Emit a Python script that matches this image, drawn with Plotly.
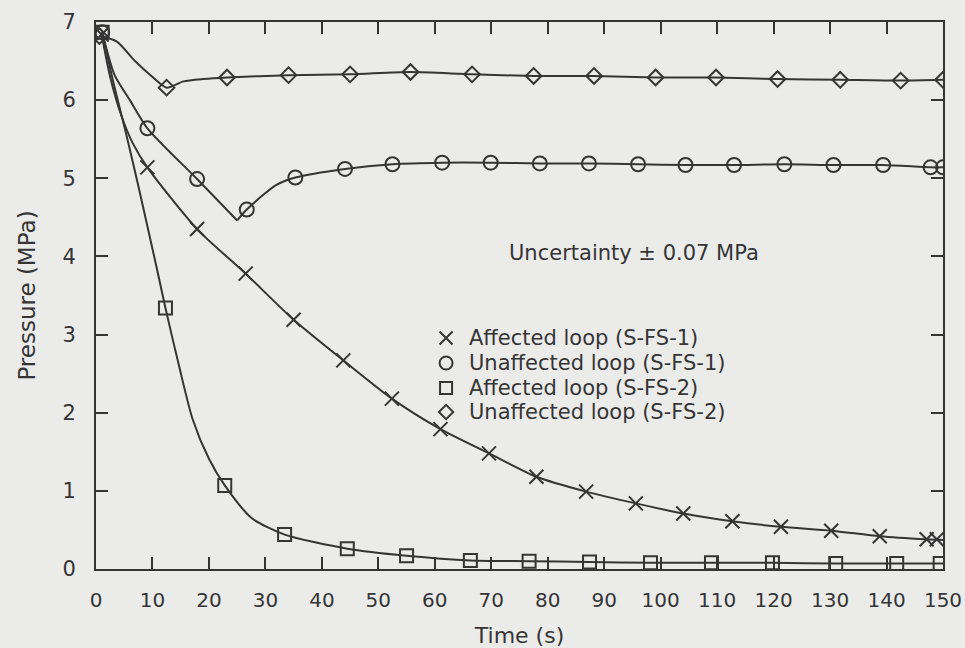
import plotly.graph_objects as go

# ---- marker data: time (s) and pressure (MPa) ----
aff1_t = [1.0, 9.1, 17.9, 26.5, 35.0, 43.8, 52.4, 61.0, 69.6, 78.0, 86.8, 95.6,
          104.0, 112.7, 121.3, 130.2, 138.8, 147.1, 148.9]
aff1_p = [6.84, 5.14, 4.35, 3.78, 3.19, 2.67, 2.18, 1.79, 1.48, 1.18, 0.99, 0.84,
          0.71, 0.61, 0.54, 0.49, 0.42, 0.38, 0.38]

unaff1_t = [1.1, 9.1, 17.9, 26.7, 35.3, 44.1, 52.5, 61.3, 69.9, 78.6, 87.3, 96.0,
            104.4, 113.0, 121.9, 130.6, 139.4, 147.8, 150.0]
unaff1_p = [6.87, 5.64, 4.99, 4.60, 5.01, 5.12, 5.18, 5.20, 5.20, 5.19, 5.19, 5.18,
            5.17, 5.17, 5.18, 5.17, 5.17, 5.14, 5.14]

aff2_t = [1.1, 12.3, 22.8, 33.4, 44.5, 55.0, 66.3, 76.7, 87.4, 98.2, 109.0, 119.8,
          131.0, 141.8, 149.5]
aff2_p = [6.87, 3.34, 1.07, 0.44, 0.26, 0.17, 0.11, 0.10, 0.09, 0.08, 0.08, 0.08,
          0.07, 0.07, 0.07]

unaff2_t = [0.6, 12.5, 23.2, 34.1, 45.0, 55.7, 66.6, 77.5, 88.2, 99.1, 109.8, 120.7,
            131.8, 142.5, 150.0]
unaff2_p = [6.82, 6.16, 6.29, 6.32, 6.33, 6.36, 6.33, 6.31, 6.31, 6.29, 6.29, 6.27,
            6.26, 6.25, 6.26]

# ---- curve vertices (smooth lines through the markers) ----
aff1_line_t = [1.0, 2.5, 4.5, 6.5, 9.1, 17.9, 26.5, 35.0, 43.8, 52.4, 61.0, 69.6,
               78.0, 86.8, 95.6, 104.0, 112.7, 121.3, 130.2, 138.8, 147.1, 150.0]
aff1_line_p = [6.84, 6.30, 5.80, 5.45, 5.14, 4.35, 3.78, 3.19, 2.67, 2.18, 1.79, 1.48,
               1.18, 0.99, 0.84, 0.71, 0.61, 0.54, 0.49, 0.42, 0.38, 0.37]

# the unaffected S-FS-1 curve has a sharp minimum, so it is drawn in two pieces
unaff1_fall_t = [1.1, 3.3, 6.0, 9.1, 17.9, 25.0]
unaff1_fall_p = [6.87, 6.32, 6.00, 5.64, 4.99, 4.46]
unaff1_rise_t = [25.0, 26.7, 31.8, 35.3, 44.1, 52.5, 61.3, 69.9, 78.6, 87.3, 96.0,
                 104.4, 113.0, 121.9, 130.6, 139.4, 147.8, 150.0]
unaff1_rise_p = [4.46, 4.60, 4.91, 5.01, 5.12, 5.18, 5.20, 5.20, 5.19, 5.19, 5.18,
                 5.17, 5.17, 5.18, 5.17, 5.17, 5.14, 5.14]

aff2_line_t = [1.1, 3.0, 5.4, 7.5, 10.7, 12.3, 14.7, 17.1, 20.0, 22.8, 27.6, 33.4,
               44.5, 55.0, 66.3, 76.7, 87.4, 98.2, 109.0, 119.8, 131.0, 141.8, 150.0]
aff2_line_p = [6.87, 6.25, 5.55, 4.90, 3.87, 3.34, 2.60, 1.92, 1.41, 1.07, 0.65, 0.44,
               0.26, 0.17, 0.11, 0.10, 0.09, 0.08, 0.08, 0.08, 0.07, 0.07, 0.07]

unaff2_line_t = [0.6, 3.7, 6.9, 9.8, 12.5, 15.5, 19.0, 23.2, 34.1, 45.0, 55.7, 66.6,
                 77.5, 88.2, 99.1, 109.8, 120.7, 131.8, 142.5, 150.0]
unaff2_line_p = [6.82, 6.75, 6.50, 6.31, 6.16, 6.24, 6.27, 6.29, 6.32, 6.33, 6.36, 6.33,
                 6.31, 6.31, 6.29, 6.29, 6.27, 6.26, 6.25, 6.26]

series_names = ["Affected loop (S-FS-1)", "Unaffected loop (S-FS-1)",
                "Affected loop (S-FS-2)", "Unaffected loop (S-FS-2)"]
x_ticks = list(range(0, 151, 10))
y_ticks = list(range(0, 8))

INK = "#353535"
PAPER = "#ebebea"
FONT = "DejaVu Sans"

fig = go.Figure()

curves = [
    (aff1_line_t, aff1_line_p),
    (unaff1_fall_t, unaff1_fall_p),
    (unaff1_rise_t, unaff1_rise_p),
    (aff2_line_t, aff2_line_p),
    (unaff2_line_t, unaff2_line_p),
]
for t, p in curves:
    fig.add_trace(go.Scatter(
        x=t, y=p, mode="lines", showlegend=False, hoverinfo="skip",
        line=dict(color=INK, width=2, shape="spline", smoothing=0.7),
    ))

symbols = [("x-thin-open", 14), ("circle-open", 14), ("square-open", 13), ("diamond-open", 12)]
marker_sets = [(aff1_t, aff1_p), (unaff1_t, unaff1_p), (aff2_t, aff2_p), (unaff2_t, unaff2_p)]
for (t, p), (sym, size), name in zip(marker_sets, symbols, series_names):
    fig.add_trace(go.Scatter(
        x=t, y=p, mode="markers", name=name, showlegend=False,
        marker=dict(symbol=sym, size=size, color=INK, line=dict(color=INK, width=2)),
    ))

# key drawn inside the plot area: symbol column plus text labels
key_x_sym = 0.4133
key_x_text = 0.438
key_rows = [0.4223, 0.3766, 0.3309, 0.2870]
for (sym, size), name, yk in zip(symbols, series_names, key_rows):
    fig.add_trace(go.Scatter(
        x=[key_x_sym], y=[yk], xaxis="x2", yaxis="y2", mode="markers",
        showlegend=False, hoverinfo="skip",
        marker=dict(symbol=sym, size=size - 1, color=INK, line=dict(color=INK, width=2)),
    ))
    fig.add_annotation(
        text=name, xref="paper", yref="paper", x=key_x_text, y=yk,
        xanchor="left", yanchor="middle", showarrow=False,
        font=dict(family=FONT, size=21, color=INK),
    )

fig.add_annotation(
    text="Uncertainty \u00b1 0.07 MPa", xref="paper", yref="paper",
    x=0.635, y=0.578, xanchor="center", yanchor="middle", showarrow=False,
    font=dict(family=FONT, size=21, color=INK),
)

axis_common = dict(
    showline=True, linecolor=INK, linewidth=2, mirror="allticks",
    ticks="inside", ticklen=12, tickwidth=2, tickcolor=INK,
    showgrid=False, zeroline=False, ticklabeloverflow="allow", automargin=False,
)

fig.update_layout(
    width=965, height=648,
    margin=dict(l=96, r=22, t=22, b=79),
    paper_bgcolor=PAPER, plot_bgcolor=PAPER,
    font=dict(family=FONT, color=INK),
    showlegend=False,
    xaxis=dict(range=[0, 150], tickvals=x_ticks, ticklabelstandoff=12,
               tickfont=dict(family=FONT, size=20, color=INK),
               title=dict(text="Time (s)", font=dict(family=FONT, size=22, color=INK),
                          standoff=18),
               **axis_common),
    yaxis=dict(range=[0, 7], tickvals=y_ticks, ticklabelstandoff=14,
               tickfont=dict(family=FONT, size=21, color=INK),
               title=dict(text="Pressure (MPa)", font=dict(family=FONT, size=23, color=INK),
                          standoff=20),
               **axis_common),
    xaxis2=dict(overlaying="x", anchor="y2", range=[0, 1], visible=False),
    yaxis2=dict(overlaying="y", anchor="x2", range=[0, 1], visible=False),
)

fig.write_html("out.html")
